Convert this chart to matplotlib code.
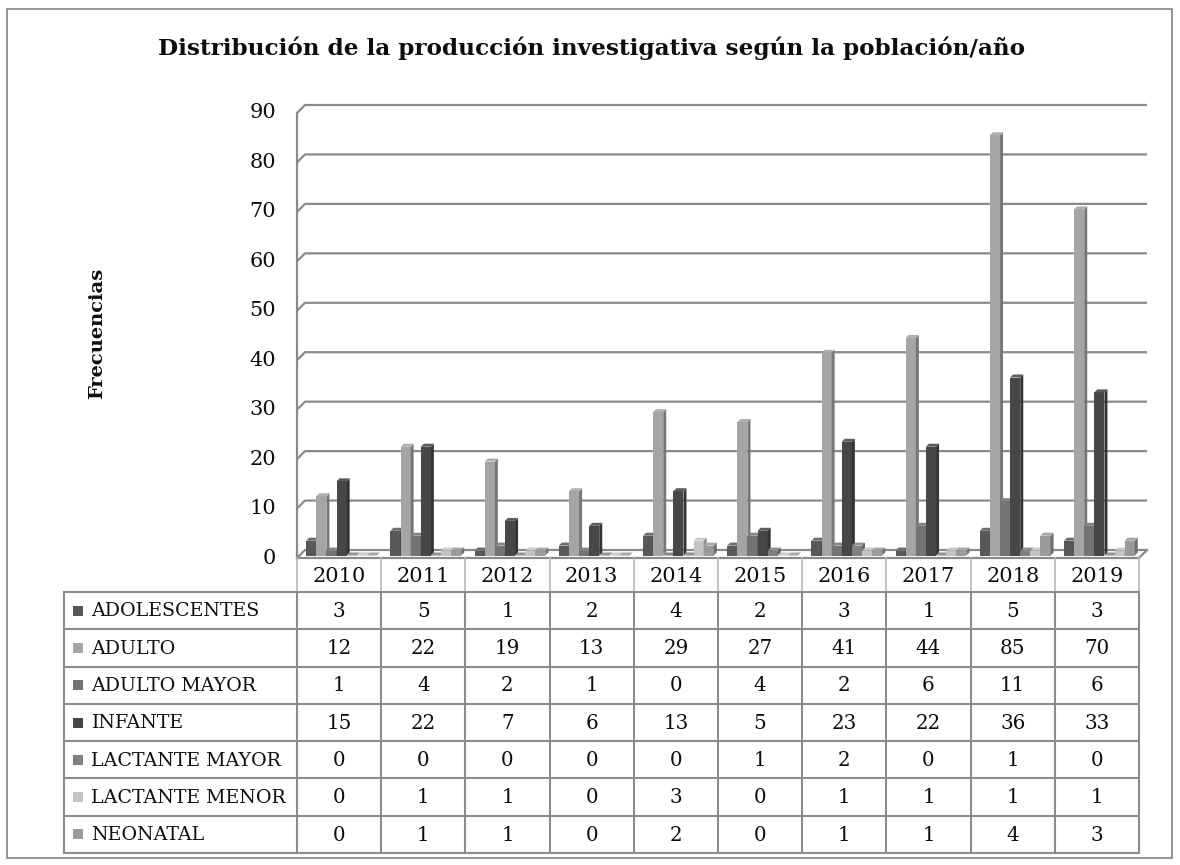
import matplotlib
matplotlib.use("Agg")
import matplotlib.pyplot as plt
from matplotlib.patches import Polygon, Rectangle

# ---------------- data ----------------
years = ["2010", "2011", "2012", "2013", "2014", "2015", "2016", "2017", "2018", "2019"]
series_names = ["ADOLESCENTES", "ADULTO", "ADULTO MAYOR", "INFANTE",
                "LACTANTE MAYOR", "LACTANTE MENOR", "NEONATAL"]
adolescentes = [3, 5, 1, 2, 4, 2, 3, 1, 5, 3]
adulto = [12, 22, 19, 13, 29, 27, 41, 44, 85, 70]
adulto_mayor = [1, 4, 2, 1, 0, 4, 2, 6, 11, 6]
infante = [15, 22, 7, 6, 13, 5, 23, 22, 36, 33]
lactante_mayor = [0, 0, 0, 0, 0, 1, 2, 0, 1, 0]
lactante_menor = [0, 1, 1, 0, 3, 0, 1, 1, 1, 1]
neonatal = [0, 1, 1, 0, 2, 0, 1, 1, 4, 3]
series_values = [adolescentes, adulto, adulto_mayor, infante,
                 lactante_mayor, lactante_menor, neonatal]
y_ticks = [0, 10, 20, 30, 40, 50, 60, 70, 80, 90]
title = "Distribución de la producción investigativa según la población/año"
y_label = "Frecuencias"

# ---------------- style ----------------
colors = ["#585858", "#a5a5a5", "#737373", "#474747", "#808080", "#c4c4c4", "#9a9a9a"]
FONT = "DejaVu Serif"
plt.rcParams["font.family"] = [FONT, "DejaVu Sans"]
TXT = "#0d0d0d"
W, H = 1180, 865
fig = plt.figure(figsize=(W / 100, H / 100), dpi=100)


def px_axes(x0, y0, x1, y1):
    return fig.add_axes([x0 / W, 1 - y1 / H, (x1 - x0) / W, (y1 - y0) / H])


def shade(hexc, f):
    r, g, b = matplotlib.colors.to_rgb(hexc)
    if f < 1:
        return (r * f, g * f, b * f)
    return (r + (1 - r) * (f - 1), g + (1 - g) * (f - 1), b + (1 - b) * (f - 1))


# outer border
border = fig.add_axes([0, 0, 1, 1])
border.set_xlim(0, W)
border.set_ylim(H, 0)
border.axis("off")
border.add_patch(Rectangle((7, 9), 1165, 849, fill=False, ec="#8c8c8c", lw=1.3))

# ---------------- chart (mid-depth plane) ----------------
AX_X0, AX_X1, AX_Y0, AX_Y1 = 301, 1143, 109, 554
ax = px_axes(AX_X0, AX_Y0, AX_X1, AX_Y1)
ncat = len(years)
ax.set_xlim(-0.5, ncat - 0.5)
ax.set_ylim(0, 90)
ax.axis("off")
px_x = ncat / (AX_X1 - AX_X0)      # category units per pixel
px_y = 90 / (AX_Y1 - AX_Y0)        # value units per pixel
dx, dy = 4 * px_x, 4 * px_y        # wall depth (half)
bdx, bdy = 3 * px_x, 3 * px_y      # bar depth

grid_c = "#8a8a8a"
left = -0.5
right = ncat - 0.5
for v in y_ticks:
    ax.plot([left - dx, left + dx, right + dx], [v - dy, v + dy, v + dy],
            color=grid_c, lw=1.6, clip_on=False, zorder=1, solid_capstyle="butt")
    ax.annotate(str(v), xy=(left - dx, v - dy), xytext=(-15, 0),
                textcoords="offset points", ha="right", va="center",
                fontsize=15, color=TXT, annotation_clip=False)
# left wall edge
ax.plot([left - dx, left - dx], [-dy, 90 - dy], color=grid_c, lw=1.6, clip_on=False, zorder=1)
# floor
ax.plot([left - dx, right - dx, right + dx], [-dy, -dy, dy], color=grid_c, lw=1.6,
        clip_on=False, zorder=1)

pitch = 0.12
nser = len(series_names)
for j, (vals, c) in enumerate(zip(series_values, colors)):
    xs = [i + (j - nser / 2) * pitch - bdx / 2 for i in range(ncat)]
    z = 10 + 3 * j
    ax.bar(xs, vals, width=pitch, bottom=-bdy / 2, align="edge", color=c,
           lw=0, zorder=z, clip_on=False)
    for x0, v in zip(xs, vals):
        x1 = x0 + pitch
        y0 = -bdy / 2
        yt = v - bdy / 2
        side = Polygon([(x1, y0), (x1 + bdx, y0 + bdy), (x1 + bdx, yt + bdy), (x1, yt)],
                       closed=True, fc=shade(c, 0.72), ec="none", zorder=z + 1, clip_on=False)
        top = Polygon([(x0, yt), (x0 + bdx, yt + bdy), (x1 + bdx, yt + bdy), (x1, yt)],
                      closed=True, fc=shade(c, 1.12), ec="none", zorder=z + 2, clip_on=False)
        ax.add_patch(side)
        ax.add_patch(top)

# ---------------- data table ----------------
T_X0, T_X1, T_Y0, T_Y1 = 64, AX_X0 - 4 + ncat / px_x, 558, 853
tb = px_axes(T_X0, T_Y0, T_X1, T_Y1)
lab_w = (AX_X0 - 4 - T_X0) * px_x
row_h_px = (T_Y1 - 592) / nser
hdr = (592 - T_Y0) / row_h_px
tb.set_xlim(-lab_w, ncat)
tb.set_ylim(nser, -hdr)
tb.axis("off")

line_c = "#8c8c8c"
hdr_c = "#b8b8b8"
for i in range(ncat + 1):
    tb.plot([i, i], [-hdr, 0], color=hdr_c, lw=1.2, clip_on=False)
for i in range(ncat):
    tb.text(i + 0.5, -hdr / 2 + 0.03, years[i], ha="center", va="center", fontsize=15,
            color=TXT)
for k in range(nser + 1):
    tb.plot([-lab_w, ncat], [k, k], color=line_c, lw=1.5, clip_on=False, solid_capstyle="projecting")
for i in range(ncat + 1):
    tb.plot([i, i], [0, nser], color=line_c, lw=1.5, clip_on=False)
tb.plot([-lab_w, -lab_w], [0, nser], color=line_c, lw=1.5, clip_on=False)

sq_w = 10 * px_x
sq_h = 10 / row_h_px
for k, (name, vals, c) in enumerate(zip(series_names, series_values, colors)):
    tb.add_patch(Rectangle((-lab_w + 9 * px_x, k + 0.5 - sq_h / 2), sq_w, sq_h,
                           fc=c, ec="none", clip_on=False))
    tb.text(-lab_w + 27 * px_x, k + 0.52, name, ha="left", va="center", fontsize=13.7,
            color=TXT)
    for i, v in enumerate(vals):
        tb.text(i + 0.5, k + 0.52, str(v), ha="center", va="center", fontsize=14.3,
                color=TXT)

# ---------------- titles ----------------
fig.text(591 / W, 1 - 48 / H, title, ha="center", va="center", fontsize=16.7,
         fontweight="bold", color=TXT)
fig.text(97 / W, 1 - 333 / H, y_label, ha="center", va="center", rotation=90,
         fontsize=14, fontweight="bold", color=TXT)

fig.savefig("out.png", dpi=100, facecolor="white")
